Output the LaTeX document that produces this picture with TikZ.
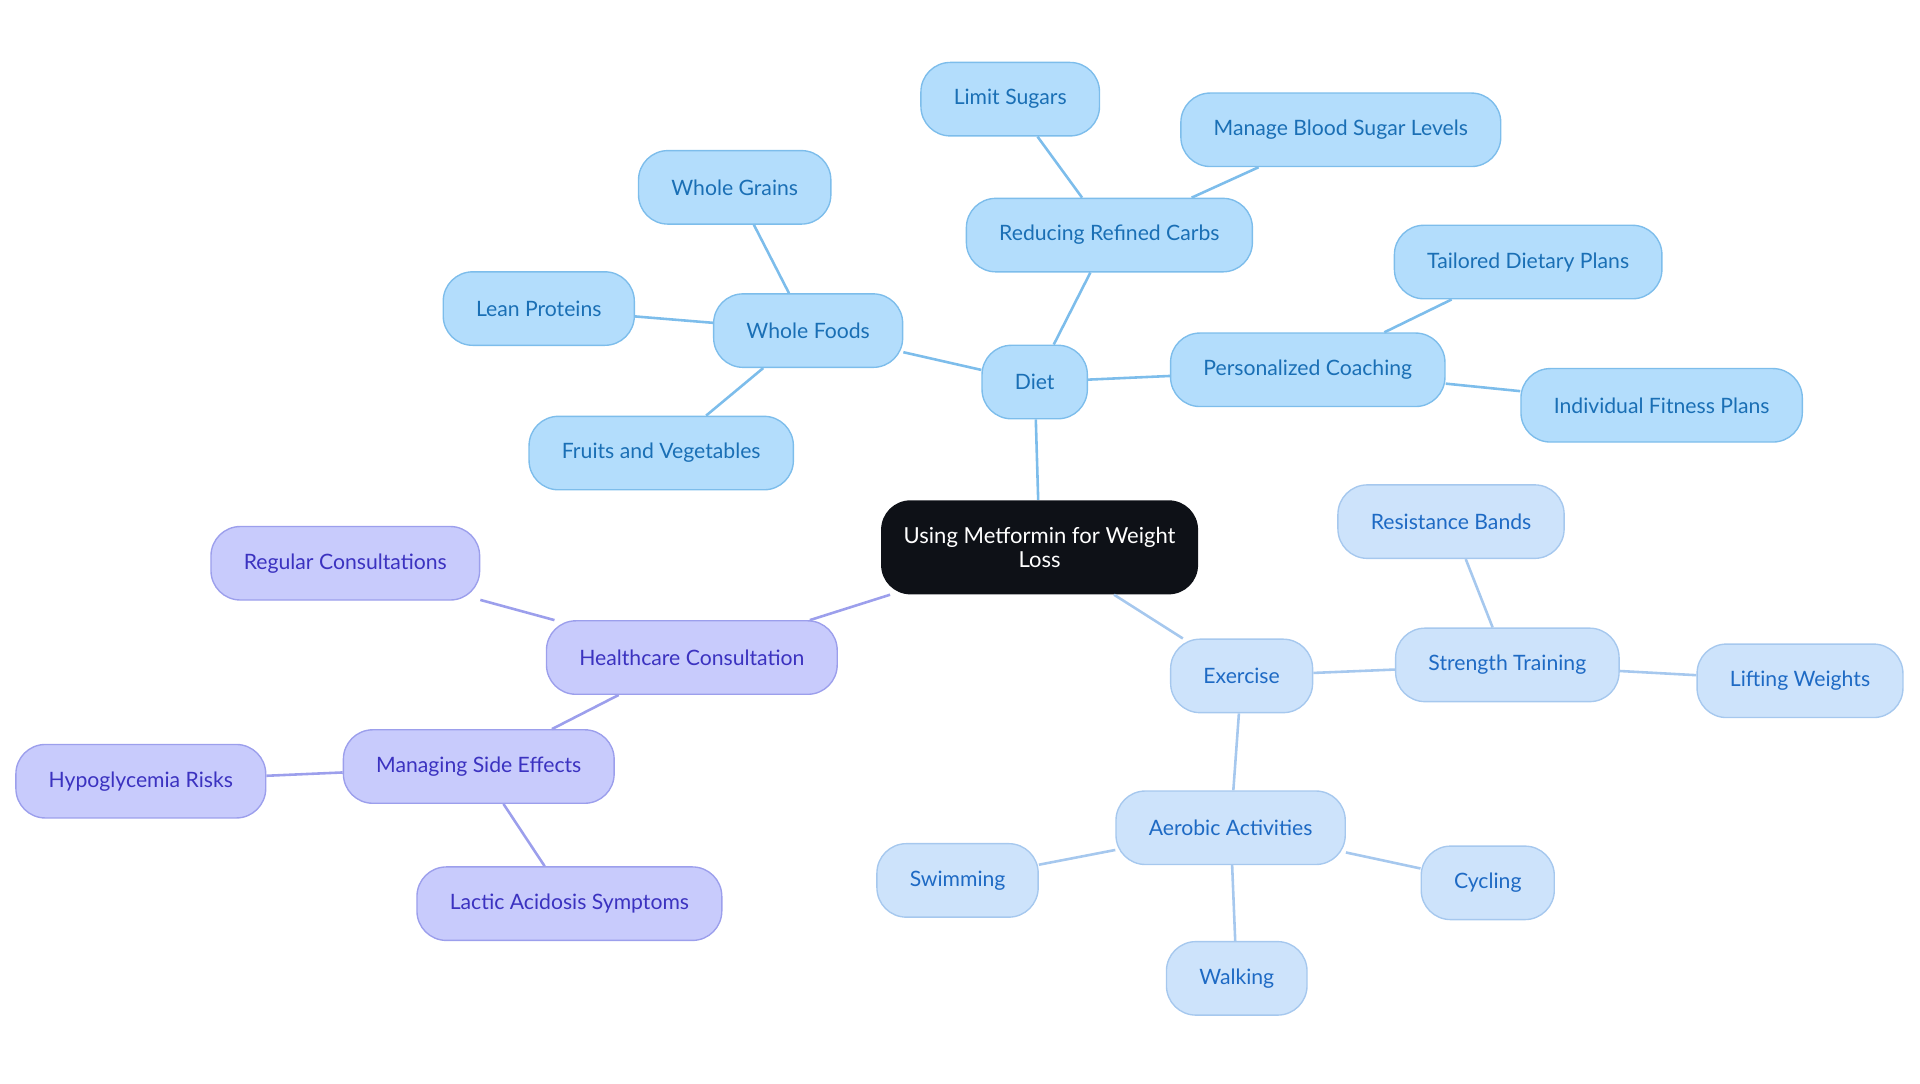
\documentclass[tikz,border=0pt]{standalone}
\usepackage{fontspec}
\setmainfont{Lato}
\definecolor{rootfill}{HTML}{0E1117}
\definecolor{dietfill}{HTML}{B3DDFC}
\definecolor{dietline}{HTML}{7DBDEB}
\definecolor{diettext}{HTML}{1A6FB5}
\definecolor{exfill}{HTML}{CDE3FB}
\definecolor{exline}{HTML}{A6C8EE}
\definecolor{extext}{HTML}{1E6AC4}
\definecolor{hcfill}{HTML}{C8CBFC}
\definecolor{hcline}{HTML}{9C9FEC}
\definecolor{hctext}{HTML}{3B32C0}
\begin{document}
\begin{tikzpicture}[x=0.025cm, y=-0.025cm,
  topic/.style={rounded corners=0.6cm, minimum height=1.5cm, inner xsep=0.67cm,
    line width=0.8pt, font=\fontsize{12.3}{15}\selectfont},
  diet/.style={topic, draw=dietline, fill=dietfill, text=diettext},
  ex/.style={topic, draw=exline, fill=exfill, text=extext},
  hc/.style={topic, draw=hcline, fill=hcfill, text=hctext},
  dietedge/.style={draw=dietline, line width=1.5pt},
  exedge/.style={draw=exline, line width=1.5pt},
  hcedge/.style={draw=hcline, line width=1.5pt}]
\useasboundingbox (0,0) rectangle (1568,885);

\node[rounded corners=0.6cm, fill=rootfill, text=white, minimum width=6.47cm, minimum height=1.92cm,
  align=center, font=\fontsize{12.8}{13.8}\selectfont] (root) at (849,447) {Using Metformin for Weight\\Loss};

\node[diet] (diet)   at (845,312)  {Diet};
\node[diet] (whole)  at (660,270)  {Whole Foods};
\node[diet] (grains) at (600,153)  {Whole Grains};
\node[diet] (lean)   at (440,252)  {Lean Proteins};
\node[diet] (fruits) at (540,370)  {Fruits and Vegetables};
\node[diet] (carbs)  at (906,192)  {Reducing Refined Carbs};
\node[diet] (sugars) at (825,81)   {Limit Sugars};
\node[diet] (blood)  at (1095,106) {Manage Blood Sugar Levels};
\node[diet] (coach)  at (1068,302) {Personalized Coaching};
\node[diet] (tailor) at (1248,214) {Tailored Dietary Plans};
\node[diet] (fit)    at (1357,331) {Individual Fitness Plans};

\node[ex] (exer)     at (1014,552) {Exercise};
\node[ex] (strength) at (1231,543) {Strength Training};
\node[ex] (bands)    at (1185,426) {Resistance Bands};
\node[ex] (lift)     at (1470,556) {Lifting Weights};
\node[ex] (aerobic)  at (1005,676) {Aerobic Activities};
\node[ex] (swim)     at (782,719)  {Swimming};
\node[ex] (cycle)    at (1215,721) {Cycling};
\node[ex] (walk)     at (1010,799) {Walking};

\node[hc] (health)  at (565,537) {Healthcare Consultation};
\node[hc] (regular) at (282,460) {Regular Consultations};
\node[hc] (side)    at (391,626) {Managing Side Effects};
\node[hc] (hypo)    at (115,638) {Hypoglycemia Risks};
\node[hc] (lactic)  at (465,738) {Lactic Acidosis Symptoms};

\draw[dietedge] (root) -- (diet);
\draw[dietedge] (diet) -- (whole);
\draw[dietedge] (whole) -- (grains);
\draw[dietedge] (whole) -- (lean);
\draw[dietedge] (whole) -- (fruits);
\draw[dietedge] (diet) -- (carbs);
\draw[dietedge] (carbs) -- (sugars);
\draw[dietedge] (carbs) -- (blood);
\draw[dietedge] (diet) -- (coach);
\draw[dietedge] (coach) -- (tailor);
\draw[dietedge] (coach) -- (fit);

\draw[exedge] (root) -- (exer);
\draw[exedge] (exer) -- (strength);
\draw[exedge] (strength) -- (bands);
\draw[exedge] (strength) -- (lift);
\draw[exedge] (exer) -- (aerobic);
\draw[exedge] (aerobic) -- (swim);
\draw[exedge] (aerobic) -- (cycle);
\draw[exedge] (aerobic) -- (walk);

\draw[hcedge] (root) -- (health);
\draw[hcedge] (health) -- (regular);
\draw[hcedge] (health) -- (side);
\draw[hcedge] (side) -- (hypo);
\draw[hcedge] (side) -- (lactic);
\end{tikzpicture}
\end{document}
